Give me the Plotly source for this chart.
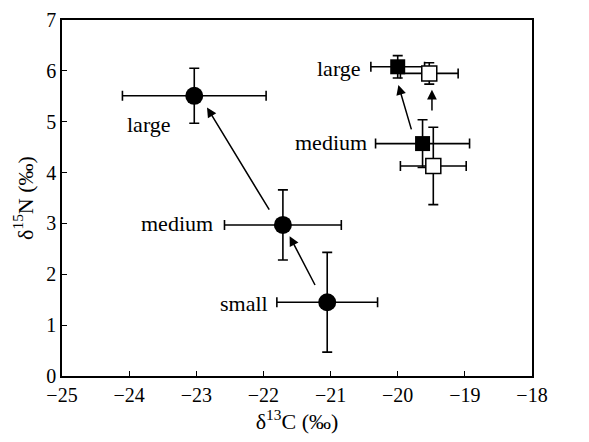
import plotly.graph_objects as go

# Circles (small, medium, large)
circ_labels = ["small", "medium", "large"]
circ_x = [-21.05, -21.71, -23.03]
circ_y = [1.45, 2.97, 5.51]
circ_xerr = [0.75, 0.87, 1.07]
circ_yerr = [0.98, 0.69, 0.54]

# Filled squares (medium, large)
fsq_labels = ["medium", "large"]
fsq_x = [-19.63, -20.0]
fsq_y = [4.57, 6.08]
fsq_xerr = [0.70, 0.40]
fsq_yerr = [0.47, 0.22]

# Open squares (medium, large)
osq_x = [-19.47, -19.53]
osq_y = [4.13, 5.95]
osq_xerr = [0.49, 0.43]
osq_yerr = [0.76, 0.21]

# Arrows: (tail_x, tail_y, head_x, head_y)
arrows = [
    (-21.22, 1.76, -21.61, 2.75),
    (-21.90, 3.24, -22.84, 5.28),
    (-19.79, 4.82, -19.99, 5.72),
    (-19.49, 5.19, -19.49, 5.63),
]

# Text labels (x, y, text)
text_x = [-22.29, -23.28, -23.71, -20.99, -20.87]
text_y = [1.43, 3.0, 4.95, 4.6, 6.05]
text_s = ["small", "medium", "large", "medium", "large"]

FONT = "Liberation Serif, Times New Roman, serif"
FS = 20
FS_LBL = 22

def eb(vals):
    return dict(type="data", array=vals, visible=True, color="black", thickness=1.6, width=5)

fig = go.Figure()
fig.add_trace(go.Scatter(x=circ_x, y=circ_y, mode="markers",
                         marker=dict(symbol="circle", size=18, color="black"),
                         error_x=eb(circ_xerr), error_y=eb(circ_yerr)))
fig.add_trace(go.Scatter(x=fsq_x, y=fsq_y, mode="markers",
                         marker=dict(symbol="square", size=15, color="black"),
                         error_x=eb(fsq_xerr), error_y=eb(fsq_yerr)))
fig.add_trace(go.Scatter(x=osq_x, y=osq_y, mode="markers",
                         marker=dict(symbol="square", size=15, color="white",
                                     line=dict(color="black", width=1.5)),
                         error_x=eb(osq_xerr), error_y=eb(osq_yerr)))

for tx, ty, hx, hy in arrows:
    fig.add_annotation(x=hx, y=hy, ax=tx, ay=ty, xref="x", yref="y", axref="x", ayref="y",
                       showarrow=True, arrowhead=2, arrowsize=1.3, arrowwidth=1.5,
                       arrowcolor="black", text="")

for x, y, s in zip(text_x, text_y, text_s):
    fig.add_annotation(x=x, y=y, text=s, showarrow=False, xref="x", yref="y",
                       font=dict(family=FONT, size=FS_LBL, color="black"))

axis_common = dict(showgrid=False, zeroline=False, showline=True, linecolor="black",
                   linewidth=1.5, mirror=True, ticks="inside", ticklen=5,
                   tickwidth=1.2, tickcolor="black", ticklabeloverflow="allow",
                   tickfont=dict(family=FONT, size=FS, color="black"))

fig.update_xaxes(range=[-25, -18], dtick=1, tick0=-25,
                 title=dict(text="δ<sup>13</sup>C (‰)", font=dict(family=FONT, size=FS_LBL, color="black"),
                            standoff=9),
                 **axis_common)
fig.update_yaxes(range=[0, 7], dtick=1, tick0=0,
                 title=dict(text="δ<sup>15</sup>N (‰)", font=dict(family=FONT, size=FS_LBL, color="black"),
                            standoff=7),
                 **axis_common)

fig.update_layout(width=589, height=442, showlegend=False,
                  plot_bgcolor="white", paper_bgcolor="white",
                  margin=dict(l=62, r=57, t=20, b=66, autoexpand=False))

fig.write_html("out.html")
